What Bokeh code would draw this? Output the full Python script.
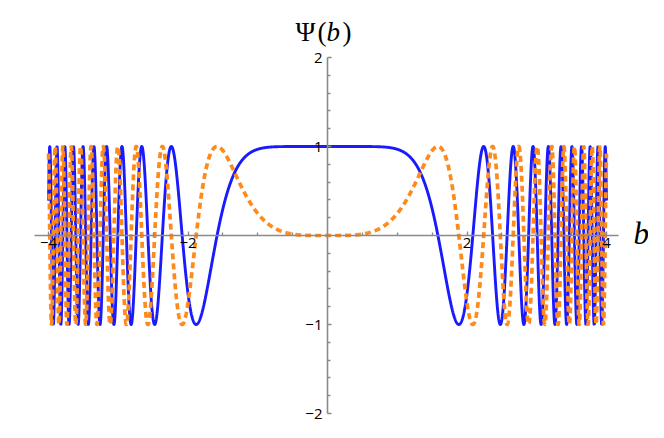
import numpy as np
from bokeh.plotting import figure
from bokeh.models import LinearAxis, FixedTicker, Label, ColumnDataSource, CustomJSTickFormatter
from bokeh.embed import file_html
from bokeh.resources import INLINE

# Function plot: Psi(b) = cos(b^4/4) (solid) and sin(b^4/4) (dashed)
b_min, b_max = -4.0, 4.0
power = 4
divisor = 4.0
x_major = [-4, -2, 2, 4]
x_minor = [-3.5, -3, -2.5, -1.5, -1, -0.5, 0.5, 1, 1.5, 2.5, 3, 3.5]
y_major = [-2, -1, 1, 2]
y_minor = [-1.8, -1.6, -1.4, -1.2, -0.8, -0.6, -0.4, -0.2,
           0.2, 0.4, 0.6, 0.8, 1.2, 1.4, 1.6, 1.8]

b = np.linspace(b_min, b_max, 12001)
phase = b ** power / divisor
src = ColumnDataSource(dict(b=b, re=np.cos(phase), im=np.sin(phase)))

W, H = 648, 422
# pixel mapping: x=-4 at 48, 69.75 px/unit ; y=2 at 57 from top, 89 px/unit
xs, ys = 69.75, 89.0
x0 = -4 - 48 / xs
x1 = x0 + W / xs
y1 = 2 + 57 / ys
y0 = y1 - H / ys

p = figure(width=W, height=H, output_backend="svg", toolbar_location=None,
           x_range=(x0, x1), y_range=(y0, y1), min_border=0,
           x_axis_location=None, y_axis_location=None)
p.grid.visible = False
p.outline_line_color = None

p.line("b", "re", source=src, line_color="#1a1aff", line_width=2.9)
p.line("b", "im", source=src, line_color="#ff8a1c", line_width=3.7, line_dash="6 4")

fmt = CustomJSTickFormatter(code="return tick < 0 ? '\u2212' + (-tick) : '' + tick;")
axis_color = "#8a8a8a"
xa = LinearAxis(fixed_location=0, ticker=FixedTicker(ticks=x_major, minor_ticks=x_minor),
                bounds=(-4.2, 4.17), formatter=fmt)
ya = LinearAxis(fixed_location=0, ticker=FixedTicker(ticks=y_major, minor_ticks=y_minor),
                bounds=(-2, 2), formatter=fmt)
for a in (xa, ya):
    a.axis_line_color = axis_color
    a.axis_line_width = 1.6
    a.major_tick_line_color = axis_color
    a.minor_tick_line_color = axis_color
    a.major_tick_line_width = 1.3
    a.minor_tick_line_width = 1.3
    a.major_tick_in = 4
    a.major_tick_out = 0
    a.minor_tick_in = 3
    a.minor_tick_out = 0
    a.major_label_text_font = "Open Sans"
    a.major_label_text_font_size = "15px"
    a.major_label_text_color = "black"
xa.major_label_standoff = 2
ya.major_label_standoff = 5
p.add_layout(xa, "below")
p.add_layout(ya, "left")

serif = "Liberation Serif"
ty = H - 46
for txt, xx, style in (("Ψ", 295, "normal"), ("(", 317, "normal"), ("b", 326, "italic"), (")", 342, "normal")):
    p.add_layout(Label(x=xx, y=ty, x_units="screen", y_units="screen", text=txt,
                       text_font=serif, text_font_style=style, text_font_size="27px",
                       text_color="black"))
p.add_layout(Label(x=633, y=H - 250, x_units="screen", y_units="screen", text="b",
                   text_font=serif, text_font_style="italic", text_font_size="31px", text_color="black"))

open("out.html", "w").write(file_html(p, INLINE))
